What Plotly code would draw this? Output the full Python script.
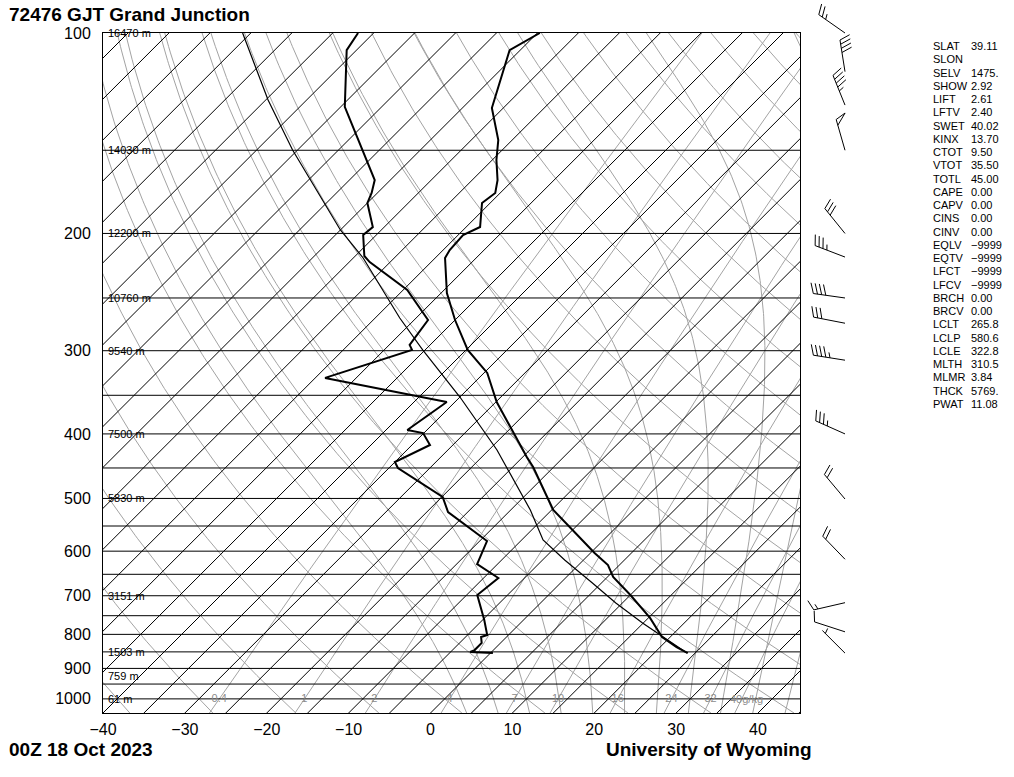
import numpy as np
import plotly.graph_objects as go

# ---------------- data ----------------
temp_p = [100, 106.1, 129.6, 144.8, 155.1, 166.3, 173.9, 180.0, 195.6, 201.1, 211.8,
          217.7, 245.7, 269.8, 299.2, 324.0, 358.2, 390.5, 433.3, 448.6, 497.5, 520.4,
          557.7, 603.9, 629.4, 656.1, 698.2, 755.8, 807.4, 835.9, 853.4]
temp_t = [-69.7, -71.3, -66.4, -61.7, -59.5, -56.9, -55.6, -56.0, -53.3, -54.4, -54.2,
          -53.8, -49.3, -45.0, -39.8, -34.6, -29.9, -25.2, -19.5, -17.5, -12.2, -9.8,
          -5.0, 0.5, 3.6, 5.7, 10.0, 15.2, 19.0, 22.0, 24.1]

dwpt_p = [100, 106.1, 129.1, 144.8, 158.9, 166.3, 173.9, 180.0, 195.6, 201.1, 216.2,
          220.8, 243.2, 269.8, 294.1, 299.2, 329.6, 358.2, 394.6, 398.8, 415.6, 440.9,
          450.1, 497.5, 524.1, 579.4, 627.3, 658.4, 698.2, 761.1, 801.8, 807.4, 824.2,
          844.6, 850.4, 853.4]
dwpt_t = [-91.9, -91.2, -84.5, -78.8, -74.1, -71.9, -70.7, -70.0, -66.4, -66.6, -63.9,
          -62.5, -54.5, -48.3, -47.5, -46.6, -53.8, -36.0, -37.4, -35.1, -32.8, -35.0,
          -33.9, -24.9, -22.4, -14.1, -12.5, -8.2, -8.7, -4.8, -2.6, -3.1, -2.3,
          -2.3, -2.6, 0.3]

parcel_p = [100, 126.1, 149.9, 197.6, 217.7, 267.9, 299.2, 352.1, 422.9, 520.4, 577.0,
            618.6, 669.9, 717.8, 769.1, 853.4]
parcel_t = [-106.0, -94.7, -85.6, -70.0, -63.8, -52.0, -45.3, -35.0, -24.0, -12.6, -7.4,
            -2.3, 3.9, 9.2, 14.9, 24.0]

pres_ticks = [100, 200, 300, 400, 500, 600, 700, 800, 900, 1000]
temp_ticks = [-40, -30, -20, -10, 0, 10, 20, 30, 40]

height_p = [100, 150, 200, 250, 300, 400, 500, 700, 850, 925, 1000]
height_lbl = ["16470 m", "14030 m", "12200 m", "10760 m", "9540 m", "7500 m",
              "5830 m", "3151 m", "1503 m", "759 m", "61 m"]

mixr_vals = [0.4, 1, 2, 4, 7, 10, 16, 24, 32, 40]
mixr_lbl = ["0.4", "1", "2", "4", "7", "10", "16", "24", "32", "40g/kg"]

theta_dry_c = list(range(-40, 190, 10))
theta_w_c = [2, 6, 10, 14, 18, 22, 26, 30, 34, 38, 42]

wind_p = [100, 114.3, 128.3, 150, 200, 217, 250, 272.8, 310, 400, 501, 617, 717, 793, 853.6]
wind_dir = [305, 351, 338, 344, 321, 291, 278, 281, 279, 294, 320, 316, 257, 288, 315]
wind_kt = [25, 40, 45, 50, 30, 35, 40, 30, 45, 35, 20, 20, 15, 10, 5]

stat_names = ["SLAT", "SLON", "SELV", "SHOW", "LIFT", "LFTV", "SWET", "KINX", "CTOT",
              "VTOT", "TOTL", "CAPE", "CAPV", "CINS", "CINV", "EQLV", "EQTV", "LFCT",
              "LFCV", "BRCH", "BRCV", "LCLT", "LCLP", "LCLE", "MLTH", "MLMR", "THCK", "PWAT"]
stat_vals = ["39.11", "", "1475.", "2.92", "2.61", "2.40", "40.02", "13.70", "9.50",
             "35.50", "45.00", "0.00", "0.00", "0.00", "0.00", "\u22129999", "\u22129999",
             "\u22129999", "\u22129999", "0.00", "0.00", "265.8", "580.6", "322.8",
             "310.5", "3.84", "5769.", "11.08"]

# ---------------- geometry ----------------
FIG_W, FIG_H = 1014, 777
PL, PR, PT, PB = 103, 800, 33, 713
P_BOT, P_TOP = 1050.0, 100.0
PX_PER_C = 655 / 80.0
X_MIN = -40.0
X_MAX = X_MIN + (PR - PL) / PX_PER_C
PXPD = (PB - PT) / np.log10(P_BOT / P_TOP)
SKEW = PXPD / PX_PER_C
FONT = "Liberation Sans, Arial, Helvetica, sans-serif"


def skx(t, p):
    return np.asarray(t, float) + SKEW * np.log10(P_BOT / np.asarray(p, float))


def seg_trace(xs, ys, color, width, **kw):
    return go.Scatter(x=xs, y=ys, mode="lines", line=dict(color=color, width=width),
                      hoverinfo="skip", showlegend=False, **kw)


fig = go.Figure()
GRAY = "#a3a3a3"
pgrid = np.logspace(np.log10(P_BOT), np.log10(P_TOP), 200)

# dry adiabats
xs, ys = [], []
for th in theta_dry_c:
    t = (th + 273.15) * (pgrid / 1000.0) ** 0.2857 - 273.15
    xs += list(skx(t, pgrid)) + [None]
    ys += list(pgrid) + [None]
fig.add_trace(seg_trace(xs, ys, GRAY, 1))


# moist adiabats
def dtdp(T, p):
    tc = T - 273.15
    es = 6.112 * np.exp(17.67 * tc / (tc + 243.5))
    rs = 0.622 * es / (p - es)
    num = 287.04 * T + 2.501e6 * rs
    den = 1005.7 + (2.501e6 ** 2) * rs * 0.622 / (287.04 * T * T)
    return num / den / p


def integrate(T0, p0, p1, n=400):
    ps = np.linspace(p0, p1, n + 1)
    Ts = [T0]
    T = T0
    for i in range(n):
        h = ps[i + 1] - ps[i]
        p = ps[i]
        k1 = dtdp(T, p)
        k2 = dtdp(T + h * k1 / 2, p + h / 2)
        k3 = dtdp(T + h * k2 / 2, p + h / 2)
        k4 = dtdp(T + h * k3, p + h)
        T = T + h * (k1 + 2 * k2 + 2 * k3 + k4) / 6
        Ts.append(T)
    return ps, np.array(Ts)


xs, ys = [], []
for tw in theta_w_c:
    pd, td = integrate(tw + 273.15, 1000.0, P_BOT, 20)
    pu, tu = integrate(td[-1], P_BOT, P_TOP, 400)
    xs += list(skx(tu - 273.15, pu)) + [None]
    ys += list(pu) + [None]
fig.add_trace(seg_trace(xs, ys, GRAY, 1))


# mixing ratio lines
def t_from_w(w, p):
    e = w * p / (622.0 + w)
    a = np.log(e / 6.112)
    return 243.5 * a / (17.67 - a)


xs, ys = [], []
for w in mixr_vals:
    t = t_from_w(w, pgrid)
    xs += list(skx(t, pgrid)) + [None]
    ys += list(pgrid) + [None]
fig.add_trace(seg_trace(xs, ys, GRAY, 1))

# isotherms
xs, ys = [], []
for t in np.arange(-130, 50, 5):
    xs += [float(skx(t, P_BOT)), float(skx(t, P_TOP)), None]
    ys += [P_BOT, P_TOP, None]
fig.add_trace(seg_trace(xs, ys, "black", 1))

# isobars
xs, ys = [], []
for p in range(150, 1050, 50):
    xs += [X_MIN, X_MAX, None]
    ys += [p, p, None]
fig.add_trace(seg_trace(xs, ys, "black", 1))

# parcel, temperature, dewpoint
fig.add_trace(seg_trace(list(skx(parcel_t, parcel_p)), parcel_p, "black", 1.2))
fig.add_trace(seg_trace(list(skx(temp_t, temp_p)), temp_p, "black", 2))
fig.add_trace(seg_trace(list(skx(dwpt_t, dwpt_p)), dwpt_p, "black", 2))

# height labels
for hp, hl in zip(height_p, height_lbl):
    fig.add_annotation(x=X_MIN, y=np.log10(hp), xref="x", yref="y", text=hl,
                       showarrow=False, xanchor="left", yanchor="middle", xshift=3,
                       font=dict(family=FONT, size=11, color="black"))

# mixing ratio labels
mx = [float(skx(t_from_w(w, 1000.0), 1000.0)) for w in mixr_vals]
fig.add_trace(go.Scatter(x=mx[:-1], y=[1000] * (len(mx) - 1), mode="text",
                         text=mixr_lbl[:-1], textposition="middle center",
                         textfont=dict(family=FONT, size=11, color="#8c8c8c"),
                         hoverinfo="skip", showlegend=False))
fig.add_annotation(x=mx[-1], y=np.log10(1000), xref="x", yref="y", text=mixr_lbl[-1],
                   showarrow=False, xanchor="left", xshift=-14,
                   font=dict(family=FONT, size=11, color="#8c8c8c"))

# ---------------- wind barbs on a full-figure overlay ----------------
BASE_X = 845
STAFF = 32
FL = 11
SP = 4.2


def barb(p, d, spd):
    r = np.radians(d)
    u = np.array([np.sin(r), np.cos(r)])  # y up
    th = np.radians(70)
    f = np.array([u[0] * np.cos(th) + u[1] * np.sin(th), -u[0] * np.sin(th) + u[1] * np.cos(th)])
    pts = [[(0, 0), tuple(STAFF * u)]]
    n50 = spd // 50
    n10 = (spd - 50 * n50) // 10
    n5 = (spd - 50 * n50 - 10 * n10) // 5
    pos = STAFF
    for _ in range(n50):
        a = pos * u
        b = (pos - 6) * u
        c = a + FL * f
        pts.append([tuple(a), tuple(c), tuple(b)])
        pos -= 8
    for _ in range(n10):
        a = pos * u
        pts.append([tuple(a), tuple(a + FL * f)])
        pos -= SP
    for _ in range(n5):
        if n50 == 0 and n10 == 0:
            pos -= SP
        a = pos * u
        pts.append([tuple(a), tuple(a + FL * 0.5 * f)])
    xs, ys = [], []
    for line in pts:
        for (dx, dy) in line:
            xs.append(BASE_X + dx)
            ys.append(p * 10 ** (-dy / PXPD))
        xs.append(None)
        ys.append(None)
    return xs, ys


bx, by = [], []
for p, d, s in zip(wind_p, wind_dir, wind_kt):
    a, b = barb(p, d, s)
    bx += a
    by += b
fig.add_trace(go.Scatter(x=bx, y=by, mode="lines", line=dict(color="black", width=1),
                         xaxis="x2", yaxis="y2", hoverinfo="skip", showlegend=False))

# ---------------- text ----------------
ann_font = dict(family=FONT, color="black")
fig.add_annotation(x=7 / FIG_W, y=1 - 15 / FIG_H, xref="paper", yref="paper",
                   text="<b>72476 GJT Grand Junction</b>", showarrow=False,
                   xanchor="left", yanchor="middle", font=dict(size=19, **ann_font))
fig.add_annotation(x=7 / FIG_W, y=1 - 749 / FIG_H, xref="paper", yref="paper",
                   text="<b>00Z 18 Oct 2023</b>", showarrow=False,
                   xanchor="left", yanchor="middle", font=dict(size=19, **ann_font))
fig.add_annotation(x=814 / FIG_W, y=1 - 749 / FIG_H, xref="paper", yref="paper",
                   text="<b>University of Wyoming</b>", showarrow=False,
                   xanchor="right", yanchor="middle", font=dict(size=19, **ann_font))
for i, (nm, vl) in enumerate(zip(stat_names, stat_vals)):
    yy = 1 - (46 + i * 13.26) / FIG_H
    fig.add_annotation(x=931 / FIG_W, y=yy, xref="paper", yref="paper", text=nm,
                       showarrow=False, xanchor="left", yanchor="middle",
                       font=dict(size=11, **ann_font))
    if vl:
        fig.add_annotation(x=969 / FIG_W, y=yy, xref="paper", yref="paper", text=vl,
                           showarrow=False, xanchor="left", yanchor="middle",
                           font=dict(size=11, **ann_font))

y2_bot = 2 + (FIG_H - PT) / PXPD
y2_top = 2 - PT / PXPD

fig.update_layout(
    width=FIG_W, height=FIG_H, margin=dict(l=0, r=0, t=0, b=0, autoexpand=False),
    paper_bgcolor="white", plot_bgcolor="rgba(0,0,0,0)",
    showlegend=False,
    xaxis=dict(domain=[PL / FIG_W, PR / FIG_W], range=[X_MIN, X_MAX], showgrid=False,
               zeroline=False, showline=True, mirror=True, linecolor="black", linewidth=1,
               tickvals=temp_ticks, ticktext=[str(t).replace("-", "\u2212") for t in temp_ticks],
               ticks="", tickfont=dict(family=FONT, size=16, color="black"),
               ticklabelstandoff=2, anchor="y", automargin=False),
    yaxis=dict(domain=[1 - PB / FIG_H, 1 - PT / FIG_H], type="log",
               range=[np.log10(P_BOT), np.log10(P_TOP)], showgrid=False, zeroline=False,
               showline=True, mirror=True, linecolor="black", linewidth=1,
               tickvals=pres_ticks, ticktext=[str(p) for p in pres_ticks], ticks="",
               tickfont=dict(family=FONT, size=16, color="black"),
               ticklabelstandoff=8, anchor="x", automargin=False),
    xaxis2=dict(domain=[0, 1], range=[0, FIG_W], visible=False, anchor="y2"),
    yaxis2=dict(domain=[0, 1], type="log", range=[y2_bot, y2_top], visible=False,
                anchor="x2"),
)

fig.write_html("out.html", config={"displayModeBar": False},
               post_script="document.body.style.margin='0px';"
                           "document.body.style.overflow='hidden';")
